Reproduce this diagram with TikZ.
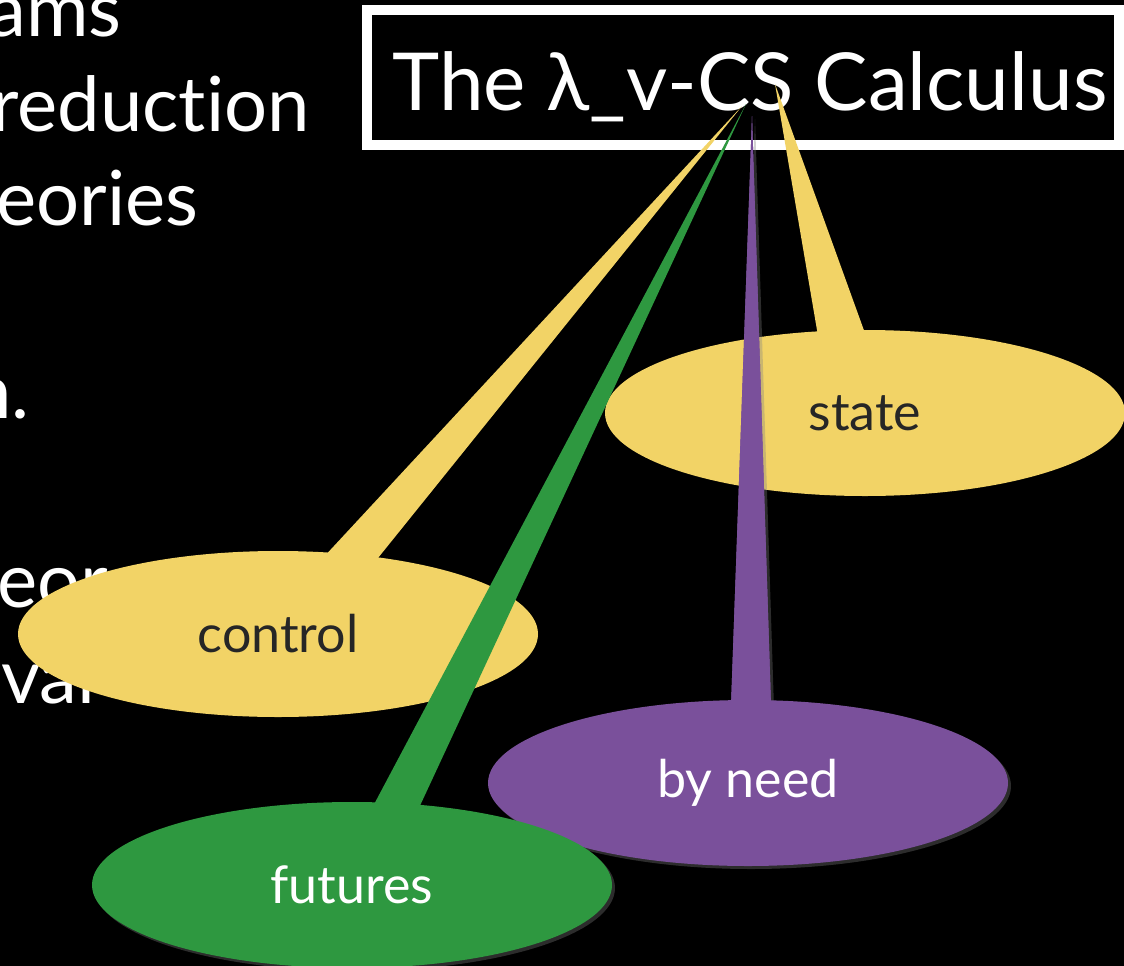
\documentclass[tikz,border=0pt]{standalone}
\usepackage{fontspec}
\setmainfont{Lato}[Ligatures=NoCommon]
\usetikzlibrary{shapes.geometric,shadows}
\definecolor{padY}{RGB}{242,211,102}
\definecolor{padG}{RGB}{46,152,64}
\definecolor{padP}{RGB}{122,80,155}
\definecolor{inkD}{RGB}{38,38,38}
\tikzset{
  bgtext/.style={text=white, inner sep=0pt, font=\fontsize{76}{90}\selectfont},
  bubble/.style={shape=ellipse, inner sep=0pt, minimum width=520pt, minimum height=166pt,
    font=\fontsize{52}{60}\selectfont},
  softshadow/.style={drop shadow={opacity=0.35, shadow xshift=3pt, shadow yshift=-3pt}},
}
\begin{document}
\begin{tikzpicture}[x=1pt,y=-1pt]
\useasboundingbox (0,0) rectangle (1124,966);
\clip (0,0) rectangle (1124,966);
\fill[black] (0,0) rectangle (1124,966);

% left background text (clipped slide text)
\node[bgtext, anchor=base east] (t1) at (122,37) {ams};
\node[bgtext, anchor=base east] (t2) at (310,131) {reduction};
\node[bgtext, anchor=base west] (t3) at (-4,225) {eories};
\node[bgtext, anchor=base east] (t4) at (30,418) {n.};
\node[bgtext, anchor=base west] (t5) at (-3,607) {eor};
\node[bgtext, anchor=base west] (t6) at (1,703) {val};

% title
\node[draw=white, line width=10pt, fill=black, minimum width=752pt, minimum height=135pt,
      inner sep=0pt] (frame) at (743,77.5) {};
\node[text=white, inner sep=0pt, anchor=base, font=\fontsize{80}{90}\selectfont]
      (title) at (750,110) {The λ\_v-CS Calculus};

% apex coordinates
\coordinate (aC) at (742,106);
\coordinate (aG) at (746,104);
\coordinate (aP) at (752,116);
\coordinate (aS) at (775,84);

% control
\node[bubble, fill=padY, text=inkD] (control) at (278,634) {control};
\coordinate (cL) at (321,560);
\coordinate (cR) at (378,558);
\fill[padY] (aC) -- (cR) -- (cL) -- cycle;

% state
\node[bubble, fill=padY, text=inkD] (state) at (865,413) {state};
\coordinate (sL) at (818,336);
\coordinate (sR) at (866,336);
\fill[padY] (aS) -- (sR) -- (sL) -- cycle;

% by need
\coordinate (pL) at (731,706);
\coordinate (pR) at (771,706);
\fill[padP, softshadow] (aP) -- (pR) -- (pL) -- cycle;
\node[bubble, fill=padP, text=white, softshadow] (byneed) at (748,783) {by need};
\fill[padP] (aP) -- (pR) -- (pL) -- cycle;

% futures
\coordinate (gL) at (371,810);
\coordinate (gR) at (418,810);
\node[bubble, fill=padG, text=white, softshadow] (futures) at (352,885) {futures};
\fill[padG] (aG) -- (gR) -- (gL) -- cycle;
\end{tikzpicture}
\end{document}
